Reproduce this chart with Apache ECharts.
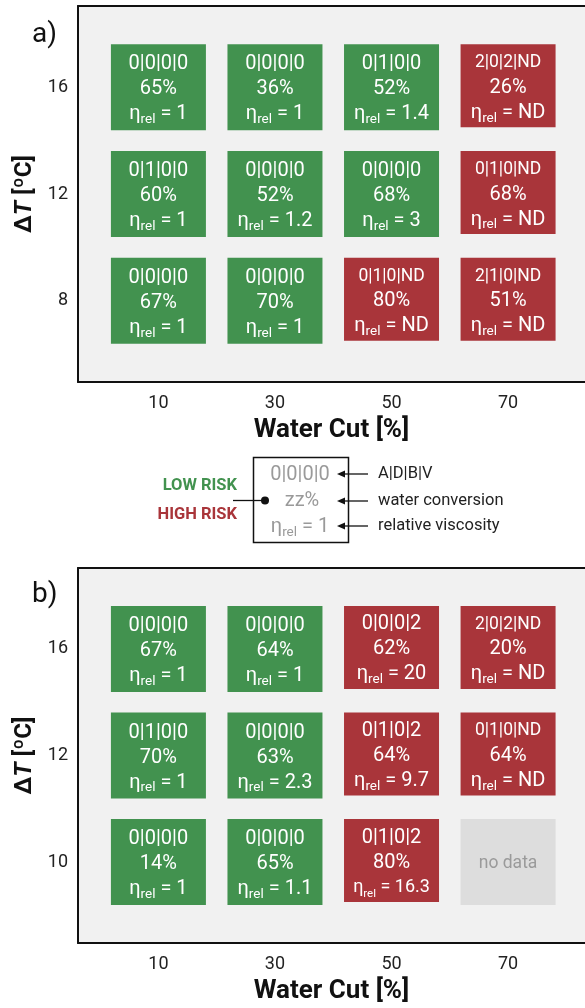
<!DOCTYPE html>
<html>
<head>
<meta charset="utf-8">
<script src="https://cdn.jsdelivr.net/npm/echarts@6/dist/echarts.min.js"></script>
<style>html,body{margin:0;padding:0;background:#fff;}#c{width:585px;height:1008px;}</style>
</head>
<body>
<div id="c"></div>
<script>
// ---- data ----
const waterCut = [10, 30, 50, 70];
const tempA = ['8', '12', '16'];   // bottom -> top
const tempB = ['10', '12', '16'];  // bottom -> top
// rows listed top -> bottom (highest ΔT first)
const codesA = [['0|0|0|0','0|0|0|0','0|1|0|0','2|0|2|ND'],
                ['0|1|0|0','0|0|0|0','0|0|0|0','0|1|0|ND'],
                ['0|0|0|0','0|0|0|0','0|1|0|ND','2|1|0|ND']];
const convA  = [[65,36,52,26],[60,52,68,68],[67,70,80,51]];
const viscA  = [['1','1','1.4','ND'],['1','1.2','3','ND'],['1','1','ND','ND']];
const riskA  = [['low','low','low','high'],['low','low','low','high'],['low','low','high','high']];
const codesB = [['0|0|0|0','0|0|0|0','0|0|0|2','2|0|2|ND'],
                ['0|1|0|0','0|0|0|0','0|1|0|2','0|1|0|ND'],
                ['0|0|0|0','0|0|0|0','0|1|0|2',null]];
const convB  = [[67,64,62,20],[70,63,64,64],[14,65,80,null]];
const viscB  = [['1','1','20','ND'],['1','2.3','9.7','ND'],['1','1.1','16.3',null]];
const riskB  = [['low','low','high','high'],['low','low','high','high'],['low','low','high','none']];

const GREEN = '#42924f', RED = '#a9353a', NODATA = '#dddddd', BG = '#f1f1f1';
const FONT = 'Roboto';

function build(codes, conv, visc, risk) {
  const out = [];
  for (let r = 0; r < codes.length; r++) {
    for (let c = 0; c < waterCut.length; c++) {
      const rk = risk[r][c];
      out.push({
        value: [waterCut[c], codes.length - 1 - r, conv[r][c]],
        code: codes[r][c], visc: visc[r][c], risk: rk,
        symbolSize: rk === 'high' ? [95, 83] : [95, 86],
        symbolOffset: rk === 'high' ? [0, -1.5] : [0, 0],
        itemStyle: { color: rk === 'low' ? GREEN : (rk === 'high' ? RED : NODATA), opacity: 1 }
      });
    }
  }
  return out;
}

function cellLabel(p) {
  const d = p.data;
  if (d.risk === 'none') return '{nd|no data}';
  const codeStyle = d.code.indexOf('ND') >= 0 ? 'a2' : 'a';
  const small = d.visc.length > 3;
  return '{' + codeStyle + '|' + d.code + '}\n{b|' + d.value[2] + '%}\n' +
    (small ? '{cs|η}{ss|rel}{cs| = ' + d.visc + '}' : '{c|η}{s|rel}{c| = ' + d.visc + '}');
}

const rich = {
  a:  { fontSize: 20, lineHeight: 25, color: '#fff', fontFamily: FONT },
  a2: { fontSize: 17.5, lineHeight: 25, color: '#fff', fontFamily: FONT },
  b:  { fontSize: 20, lineHeight: 25, color: '#fff', fontFamily: FONT },
  c:  { fontSize: 20, lineHeight: 25, color: '#fff', fontFamily: FONT },
  s:  { fontSize: 13.5, lineHeight: 13, color: '#fff', fontFamily: FONT, verticalAlign: 'bottom' },
  cs: { fontSize: 18, lineHeight: 25, color: '#fff', fontFamily: FONT },
  ss: { fontSize: 11.5, lineHeight: 11, color: '#fff', fontFamily: FONT, verticalAlign: 'bottom' },
  nd: { fontSize: 17.5, color: '#9a9a9a', fontFamily: FONT }
};

const AX_LINE = { show: true, onZero: false, lineStyle: { color: '#111', width: 2 } };

function xAxes(gi) {
  return [{
    gridIndex: gi, type: 'value', min: -3.8, max: 83.2, position: 'bottom',
    axisLine: AX_LINE, axisTick: { show: false }, splitLine: { show: false },
    axisLabel: { customValues: waterCut, fontSize: 18, color: '#222', fontFamily: FONT, margin: 12 },
    name: 'Water Cut [%]', nameLocation: 'middle', nameGap: 35,
    nameTextStyle: { fontSize: 26, fontWeight: 'bold', color: '#111', fontFamily: FONT }
  }, {
    gridIndex: gi, type: 'value', min: -3.8, max: 83.2, position: 'top',
    axisLine: AX_LINE, axisTick: { show: false }, splitLine: { show: false }, axisLabel: { show: false }
  }];
}
function yAxis(gi, labels) {
  return {
    gridIndex: gi, type: 'value', min: -0.76, max: 2.76, position: 'left',
    axisLine: AX_LINE, axisTick: { show: false }, splitLine: { show: false },
    axisLabel: { customValues: [0, 1, 2], formatter: v => labels[v], fontSize: 18, color: '#222', fontFamily: FONT, margin: 10 },
    name: '{n|Δ}{i|T}{n| [ºC]}', nameLocation: 'middle', nameGap: 39, nameRotate: 90,
    nameTextStyle: { rich: {
      n: { fontSize: 24, fontWeight: 'bold', color: '#111', fontFamily: FONT },
      i: { fontSize: 24, fontWeight: 'bold', fontStyle: 'italic', color: '#111', fontFamily: FONT }
    } }
  };
}

const chart = echarts.init(document.getElementById('c'), null, { renderer: 'canvas' });

const legendText = (x, y, text) => ({
  type: 'text', x: x, y: y,
  style: { text: text, fontSize: 16.5, fill: '#222', fontFamily: FONT, verticalAlign: 'middle' }
});
const arrow = (y) => [
  { type: 'line', shape: { x1: 343, y1: y, x2: 368, y2: y }, style: { stroke: '#111', lineWidth: 1.3 } },
  { type: 'polygon', shape: { points: [[337, y], [345, y - 3.5], [345, y + 3.5]] }, style: { fill: '#111' } }
];

const xa = xAxes(0).concat(xAxes(1));

chart.setOption({
  animation: false,
  backgroundColor: '#fff',
  title: [
    { text: 'a)', left: 27, top: 16, textStyle: { fontSize: 28, fontWeight: 'normal', color: '#111', fontFamily: FONT } },
    { text: 'b)', left: 27, top: 576, textStyle: { fontSize: 28, fontWeight: 'normal', color: '#111', fontFamily: FONT } }
  ],
  grid: [
    { left: 78, top: 6, width: 507, height: 376, show: true, backgroundColor: BG, borderWidth: 0 },
    { left: 78, top: 568, width: 507, height: 375, show: true, backgroundColor: BG, borderWidth: 0 }
  ],
  xAxis: xa,
  yAxis: [yAxis(0, tempA), yAxis(1, tempB)],
  series: [
    { type: 'scatter', xAxisIndex: 0, yAxisIndex: 0, symbol: 'rect',
      data: build(codesA, convA, viscA, riskA),
      label: { show: true, position: 'inside', offset: [0, 2], formatter: cellLabel, rich: rich } },
    { type: 'scatter', xAxisIndex: 2, yAxisIndex: 1, symbol: 'rect',
      data: build(codesB, convB, viscB, riskB),
      label: { show: true, position: 'inside', offset: [0, 2], formatter: cellLabel, rich: rich } }
  ],
  graphic: [
    { type: 'rect', shape: { x: 253.5, y: 457.5, width: 95, height: 85 }, style: { fill: '#fff', stroke: '#111', lineWidth: 1.5 } },
    { type: 'text', x: 300, y: 475, style: { text: '0|0|0|0', fontSize: 20, fill: '#9a9a9a', fontFamily: FONT, align: 'center', verticalAlign: 'middle' } },
    { type: 'text', x: 302, y: 501, style: { text: 'zz%', fontSize: 20, fill: '#9a9a9a', fontFamily: FONT, align: 'center', verticalAlign: 'middle' } },
    { type: 'text', x: 300, y: 527, style: {
      text: '{c|η}{s|rel}{c| = 1}', align: 'center', verticalAlign: 'middle',
      rich: { c: { fontSize: 20, lineHeight: 25, fill: '#9a9a9a', fontFamily: FONT },
              s: { fontSize: 13.5, lineHeight: 13, fill: '#9a9a9a', fontFamily: FONT, verticalAlign: 'bottom' } } } },
    ...arrow(474), ...arrow(501), ...arrow(526),
    legendText(378, 474, 'A|D|B|V'),
    legendText(378, 501, 'water conversion'),
    legendText(378, 526, 'relative viscosity'),
    { type: 'text', x: 237, y: 486, style: { text: 'LOW RISK', fontSize: 16.5, fontWeight: 'bold', fill: GREEN, fontFamily: FONT, align: 'right', verticalAlign: 'middle' } },
    { type: 'text', x: 237, y: 515, style: { text: 'HIGH RISK', fontSize: 16.5, fontWeight: 'bold', fill: RED, fontFamily: FONT, align: 'right', verticalAlign: 'middle' } },
    { type: 'line', shape: { x1: 233, y1: 500.5, x2: 265, y2: 500.5 }, style: { stroke: '#111', lineWidth: 1.3 } },
    { type: 'circle', shape: { cx: 265, cy: 500.5, r: 4 }, style: { fill: '#111' } }
  ]
});
</script>
</body>
</html>
